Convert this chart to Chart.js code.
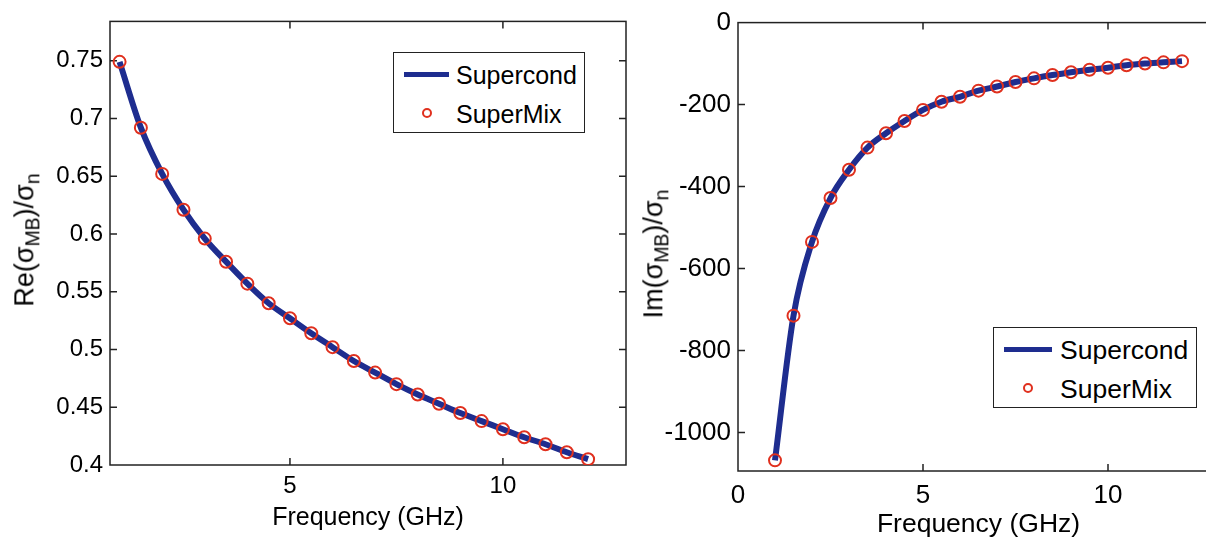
<!DOCTYPE html>
<html>
<head>
<meta charset="utf-8">
<script src="https://cdn.jsdelivr.net/npm/chart.js@4.4.0/dist/chart.umd.min.js"></script>
<style>
    html, body { margin: 0; padding: 0; background: #fff; overflow: hidden; }
    #wrap { position: relative; width: 1206px; height: 540px; overflow: hidden; }
    canvas { position: absolute; top: 0; }
    #reChart { left: 0; }
    #imChart { left: 640px; }
    .ytitle {
        position: absolute;
        font-family: 'Liberation Sans', Arial, sans-serif;
        font-size: 27px;
        line-height: 1;
        color: #000;
        white-space: nowrap;
        transform: translate(-50%, -50%) rotate(-90deg);
    }
    .ytitle sub { font-size: 0.72em; vertical-align: -0.3em; }
    .legend {
        position: absolute;
        box-sizing: border-box;
        border: 1.5px solid #222;
        background: #fff;
        font-family: 'Liberation Sans', Arial, sans-serif;
        color: #000;
    }
    .legend .line { position: absolute; height: 5px; background: #1e2d8f; }
    .legend .dot { position: absolute; width: 10px; height: 10px; box-sizing: border-box; border: 2px solid #e0301e; border-radius: 50%; }
    .legend .txt { position: absolute; line-height: 1; transform: translateY(-50%); white-space: nowrap; }
</style>
</head>
<body>
<div id="wrap">
    <canvas id="reChart" width="640" height="540"></canvas>
    <canvas id="imChart" width="600" height="540"></canvas>

    <div class="ytitle" style="left:27px; top:240px;">Re(σ<sub>MB</sub>)/σ<sub>n</sub></div>
    <div class="ytitle" style="left:656px; top:254px;">Im(σ<sub>MB</sub>)/σ<sub>n</sub></div>

    <div class="legend" style="left:393px; top:52px; width:192px; height:81px; font-size:25px;">
        <div class="line" style="left:10px; top:19px; width:45px;"></div>
        <div class="txt" style="left:62px; top:22px;">Supercond</div>
        <div class="dot" style="left:28px; top:55px;"></div>
        <div class="txt" style="left:62px; top:61px;">SuperMix</div>
    </div>
    <div class="legend" style="left:993px; top:327px; width:204px; height:81px; font-size:26.5px;">
        <div class="line" style="left:10px; top:19px; width:48px;"></div>
        <div class="txt" style="left:66px; top:22px;">Supercond</div>
        <div class="dot" style="left:29px; top:55px;"></div>
        <div class="txt" style="left:66px; top:61px;">SuperMix</div>
    </div>
</div>
<script>
// Data
const freq = [1, 1.5, 2, 2.5, 3, 3.5, 4, 4.5, 5, 5.5, 6, 6.5, 7, 7.5, 8, 8.5, 9, 9.5, 10, 10.5, 11, 11.5, 12];
const reSigma = [0.749, 0.692, 0.652, 0.621, 0.596, 0.576, 0.557, 0.540, 0.527, 0.514, 0.502, 0.490, 0.480, 0.470, 0.461, 0.453, 0.445, 0.438, 0.431, 0.424, 0.418, 0.411, 0.405];
const imSigma = [-1068, -715, -535, -428, -359, -305, -270, -240, -213, -193, -181, -166, -156, -145, -136, -128, -121, -115, -110, -104, -100, -97, -94];

// Tick labels
const reXTicks = [5, 10];
const reYTicks = [0.4, 0.45, 0.5, 0.55, 0.6, 0.65, 0.7, 0.75];
const imXTicks = [0, 5, 10];
const imYTicks = [-1000, -800, -600, -400, -200, 0];

const LINE_COLOR = '#1e2d8f';
const MARKER_COLOR = '#e0301e';
const TEXT_COLOR = '#000';
const FONT = "'Liberation Sans', Arial, sans-serif";

// Box around the plot with inward tick marks (MATLAB style)
const framePlugin = {
    id: 'frame',
    beforeDatasetsDraw(chart) {
        const { ctx, chartArea: a, scales: { x, y } } = chart;
        const len = 7;
        ctx.save();
        ctx.strokeStyle = '#222';
        ctx.lineWidth = 1.5;
        ctx.strokeRect(a.left, a.top, a.right - a.left, a.bottom - a.top);
        ctx.beginPath();
        x.ticks.forEach(t => {
            const px = x.getPixelForValue(t.value);
            if (px <= a.left + 1 || px >= a.right - 1) return;
            ctx.moveTo(px, a.bottom); ctx.lineTo(px, a.bottom - len);
            ctx.moveTo(px, a.top); ctx.lineTo(px, a.top + len);
        });
        y.ticks.forEach(t => {
            const py = y.getPixelForValue(t.value);
            if (py <= a.top + 1 || py >= a.bottom - 1) return;
            ctx.moveTo(a.left, py); ctx.lineTo(a.left + len, py);
            ctx.moveTo(a.right, py); ctx.lineTo(a.right - len, py);
        });
        ctx.stroke();
        ctx.restore();
    }
};

function makeChart(id, values, opts) {
    const ctx = document.getElementById(id).getContext('2d');
    const pts = freq.map((f, i) => ({ x: f, y: values[i] }));
    return new Chart(ctx, {
        type: 'line',
        data: {
            datasets: [{
                label: 'SuperMix',
                data: pts,
                showLine: false,
                pointRadius: 6,
                pointBorderWidth: 2,
                pointBorderColor: MARKER_COLOR,
                pointBackgroundColor: 'rgba(0,0,0,0)',
                order: 0
            }, {
                label: 'Supercond',
                data: pts,
                borderColor: LINE_COLOR,
                borderWidth: 6,
                pointRadius: 0,
                cubicInterpolationMode: 'monotone',
                fill: false,
                order: 1
            }]
        },
        options: {
            responsive: false,
            animation: false,
            events: [],
            layout: { padding: opts.padding },
            plugins: {
                legend: { display: false },
                tooltip: { enabled: false }
            },
            scales: {
                x: {
                    type: 'linear',
                    min: opts.xMin,
                    max: opts.xMax,
                    afterBuildTicks: s => { s.ticks = opts.xTicks.map(v => ({ value: v })); },
                    afterFit: s => { s.height = opts.xHeight; },
                    grid: { display: false, drawTicks: false },
                    border: { display: false },
                    ticks: {
                        autoSkip: false,
                        maxRotation: 0,
                        padding: opts.xTickPad,
                        color: TEXT_COLOR,
                        font: { family: FONT, size: opts.tickSize },
                        callback: v => String(v)
                    },
                    title: {
                        display: true,
                        text: 'Frequency (GHz)',
                        color: TEXT_COLOR,
                        font: { family: FONT, size: opts.titleSize, lineHeight: 1 },
                        padding: { top: 0, bottom: opts.titlePad }
                    }
                },
                y: {
                    type: 'linear',
                    min: opts.yMin,
                    max: opts.yMax,
                    afterBuildTicks: s => { s.ticks = opts.yTicks.map(v => ({ value: v })); },
                    afterFit: s => { s.width = opts.yWidth; },
                    grid: { display: false, drawTicks: false },
                    border: { display: false },
                    ticks: {
                        autoSkip: false,
                        padding: 7,
                        color: TEXT_COLOR,
                        font: { family: FONT, size: opts.tickSize },
                        callback: v => String(v)
                    }
                }
            }
        },
        plugins: [framePlugin]
    });
}

// Left panel: real part
makeChart('reChart', reSigma, {
    padding: { top: 15, right: 14, bottom: 0, left: 0 },
    xMin: 0.775, xMax: 12.89, xTicks: reXTicks,
    yMin: 0.4, yMax: 0.784, yTicks: reYTicks,
    xHeight: 75, yWidth: 110, xTickPad: 7, titlePad: 9,
    tickSize: 24, titleSize: 25
});

// Right panel: imaginary part (box runs past the window edge)
makeChart('imChart', imSigma, {
    padding: { top: 21, right: 21, bottom: 0, left: 0 },
    xMin: 0, xMax: 13, xTicks: imXTicks,
    yMin: -1094, yMax: 0, yTicks: imYTicks,
    xHeight: 69, yWidth: 98, xTickPad: 9, titlePad: 2,
    tickSize: 26, titleSize: 26.5
});
</script>
</body>
</html>
